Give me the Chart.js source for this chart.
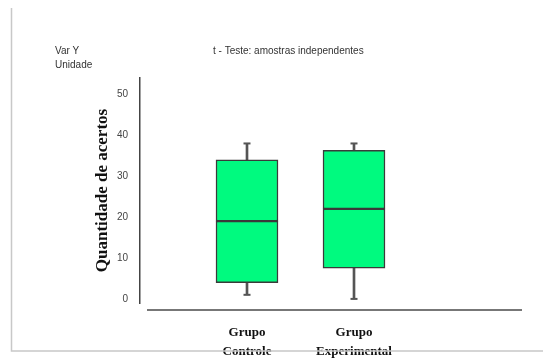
<!DOCTYPE html>
<html>
<head>
<meta charset="utf-8">
<script src="https://cdn.jsdelivr.net/npm/chart.js@4.4.1/dist/chart.umd.min.js"></script>
<style>
  body { margin: 0; background: #fff; }
  canvas { display: block; }
</style>
</head>
<body>
<canvas id="chart" width="543" height="358"></canvas>
<script>
var groups = [["Grupo", "Controle"], ["Grupo", "Experimental"]];
var minVals = [1, 0];
var q1Vals = [4, 7.5];
var medianVals = [19, 22];
var q3Vals = [34, 36.3];
var maxVals = [38, 38];
var yTicks = [0, 10, 20, 30, 40, 50];

// an empty slot on each side puts the two boxes where the original has them
function pad(arr) { return [null].concat(arr, [null]); }
function pairs(a, b) { return a.map(function (v, i) { return [v, b[i]]; }); }

var labels = [""].concat(groups, [""]);

// frame lines, detached x axis and the header texts
var decor = {
    id: 'decor',
    afterDraw: function (chart) {
        var ctx = chart.ctx;
        var area = chart.chartArea;
        ctx.save();
        ctx.strokeStyle = '#c8c8c8';
        ctx.lineWidth = 1.5;
        ctx.beginPath();
        ctx.moveTo(11.5, 8);
        ctx.lineTo(11.5, 351);
        ctx.lineTo(543, 351);
        ctx.stroke();

        ctx.strokeStyle = '#777';
        ctx.lineWidth = 2;
        ctx.beginPath();
        ctx.moveTo(area.left + 7, area.bottom + 7);
        ctx.lineTo(522, area.bottom + 7);
        ctx.stroke();

        ctx.fillStyle = '#333';
        ctx.font = '10px "Liberation Sans", Arial, sans-serif';
        ctx.textBaseline = 'alphabetic';
        ctx.fillText('Var Y', 55, 54);
        ctx.fillText('Unidade', 55, 68);
        ctx.fillText('t - Teste: amostras independentes', 213, 54);
        ctx.restore();
    }
};

window.onload = function () {
    var ctx = document.getElementById('chart').getContext('2d');

    window.theChart = new Chart(ctx, {
        type: 'bar',
        data: {
            labels: labels,
            datasets: [
                {
                    // whisker stem
                    data: pad(pairs(minVals, maxVals)),
                    backgroundColor: '#555',
                    barThickness: 2,
                    order: 2
                },
                {
                    data: pad(pairs(q1Vals, medianVals)),
                    backgroundColor: '#00fa7f',
                    borderColor: '#3a3a3a',
                    borderWidth: 1.5,
                    borderSkipped: false,
                    barThickness: 62,
                    order: 1
                },
                {
                    data: pad(pairs(medianVals, q3Vals)),
                    backgroundColor: '#00fa7f',
                    borderColor: '#3a3a3a',
                    borderWidth: 1.5,
                    borderSkipped: false,
                    barThickness: 62,
                    order: 1
                },
                {
                    type: 'line',
                    data: pad(maxVals),
                    showLine: false,
                    pointStyle: 'line',
                    pointRadius: 3.5,
                    borderColor: '#555',
                    borderWidth: 2,
                    order: 0
                },
                {
                    type: 'line',
                    data: pad(minVals),
                    showLine: false,
                    pointStyle: 'line',
                    pointRadius: 3.5,
                    borderColor: '#555',
                    borderWidth: 2,
                    order: 0
                }
            ]
        },
        options: {
            responsive: false,
            animation: false,
            layout: {
                padding: { top: 78, right: 82, bottom: 0, left: 88 }
            },
            plugins: {
                legend: { display: false },
                tooltip: { enabled: false }
            },
            scales: {
                x: {
                    stacked: true,
                    offset: false,
                    grid: { display: false, drawTicks: false },
                    border: { display: false },
                    afterFit: function (scale) { scale.height = 55; },
                    ticks: {
                        padding: 21,
                        color: '#111',
                        maxRotation: 0,
                        autoSkip: false,
                        font: { family: '"Liberation Serif", "Times New Roman", serif', size: 13, weight: 'bold', lineHeight: 1.4 }
                    }
                },
                y: {
                    stacked: false,
                    min: -1,
                    max: 54,
                    grid: { display: false, drawTicks: false },
                    border: { display: true, color: '#444', width: 1.5 },
                    afterBuildTicks: function (scale) {
                        scale.ticks = yTicks.map(function (v) { return { value: v }; });
                    },
                    afterFit: function (scale) { scale.width = 52; },
                    ticks: {
                        padding: 12,
                        color: '#444',
                        font: { family: '"Liberation Sans", Arial, sans-serif', size: 10 }
                    },
                    title: {
                        display: true,
                        text: 'Quantidade de acertos',
                        color: '#111',
                        padding: { top: 4, bottom: 4 },
                        font: { family: '"Liberation Serif", "Times New Roman", serif', size: 17, weight: 'bold' }
                    }
                }
            }
        },
        plugins: [decor]
    });
};
</script>
</body>
</html>
